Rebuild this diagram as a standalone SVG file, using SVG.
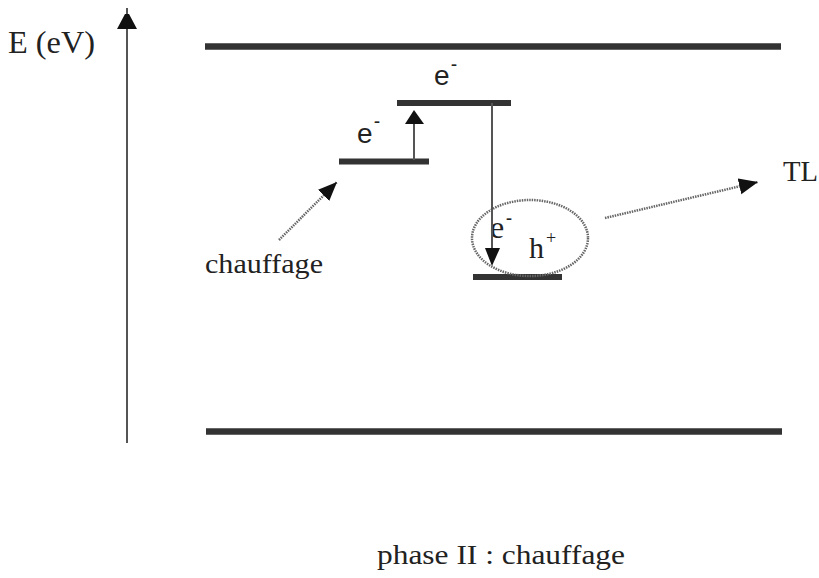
<svg xmlns="http://www.w3.org/2000/svg" width="819" height="578" viewBox="0 0 819 578">
  <style>
    .t { font-family: "Liberation Serif", "DejaVu Serif", serif; fill: #222; }
    .s { font-family: "Liberation Sans", Arial, sans-serif; fill: #222; font-size: 28px; }
    .sup { font-family: "Liberation Serif", "DejaVu Serif", serif; fill: #222; font-size: 18px; font-weight: bold; }
    .band { stroke: #333; stroke-width: 6.5; }
    .lvl { stroke: #333; stroke-width: 6; }
    .ln { stroke: #555; stroke-width: 2; fill: none; }
    .dot { stroke: #666; stroke-width: 2.5; stroke-dasharray: 1.5 1; fill: none; }
  </style>
  <defs>
    <marker id="ah" markerUnits="userSpaceOnUse" markerWidth="22" markerHeight="18" refX="19" refY="8" orient="auto">
      <path d="M0,0 L19,8 L0,16 z" fill="#111"/>
    </marker>
  </defs>
  <rect width="819" height="578" fill="#fff"/>

  <g id="axis">
    <line class="ln" x1="127" y1="8" x2="127" y2="443"/>
    <polygon points="125,14 129,14 137,29 117,29" fill="#111"/>
    <text class="t" x="8" y="53" font-size="31" textLength="87" lengthAdjust="spacingAndGlyphs">E (eV)</text>
  </g>

  <g id="conduction-band"><line class="band" x1="205" y1="46.5" x2="781" y2="46.5"/></g>
  <g id="valence-band"><line class="band" x1="206" y1="431.5" x2="782" y2="431.5"/></g>

  <g id="level1">
    <line class="lvl" x1="339" y1="161.5" x2="429" y2="161.5"/>
    <text class="s" x="357" y="143">e</text>
    <text class="sup" x="374" y="127">-</text>
  </g>
  <g id="level2">
    <line class="lvl" x1="397" y1="103" x2="511" y2="103"/>
    <text class="s" x="434" y="85">e</text>
    <text class="sup" x="451" y="70">-</text>
  </g>
  <g id="level3">
    <line class="lvl" x1="473" y1="277" x2="562" y2="277"/>
  </g>

  <g id="recombination">
    <ellipse class="dot" cx="530" cy="238" rx="58" ry="38"/>
    <text class="t" x="490" y="238" font-size="32">e</text>
    <text class="sup" x="506" y="224">-</text>
    <text class="t" x="529" y="258" font-size="30">h</text>
    <text class="t" x="546" y="244" font-size="18">+</text>
  </g>

  <g id="connectors">
    <line class="ln" x1="414" y1="160" x2="414" y2="118"/>
    <polygon points="414,110 405,124 424,124" fill="#111"/>
    <line class="ln" x1="492" y1="103" x2="492" y2="252"/>
    <polygon points="485,248 500,248 492,266" fill="#111"/>
    <line class="dot" x1="279" y1="240" x2="337" y2="182" marker-end="url(#ah)"/>
    <line class="dot" x1="605" y1="218" x2="758" y2="182" marker-end="url(#ah)"/>
  </g>

  <g id="labels">
    <text class="t" x="205" y="273" font-size="28" textLength="118" lengthAdjust="spacingAndGlyphs">chauffage</text>
    <text class="t" x="783" y="181" font-size="29" textLength="35" lengthAdjust="spacingAndGlyphs">TL</text>
    <text class="t" x="377" y="564" font-size="28" textLength="248" lengthAdjust="spacingAndGlyphs">phase II : chauffage</text>
  </g>
</svg>
